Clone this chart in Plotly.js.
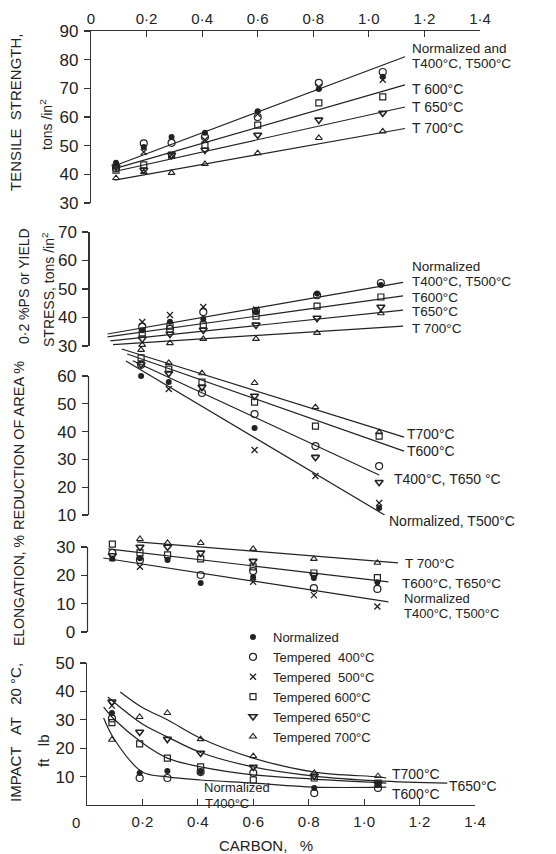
<!DOCTYPE html>
<html><head><meta charset="utf-8">
<script src="https://cdn.plot.ly/plotly-3.0.1.min.js"></script>
<style>html,body{margin:0;padding:0;background:#fff;}#chart{width:556px;height:854px;}</style>
</head><body><div id="chart"></div>
<script>
// ---------------- DATA ----------------
const carbon = [0.09, 0.19, 0.29, 0.41, 0.60, 0.82, 1.05];
const seriesNames = ['Normalized', 'Tempered  400°C', 'Tempered  500°C', 'Tempered 600°C', 'Tempered 650°C', 'Tempered 700°C'];
const xTickValsTop = [0, 0.2, 0.4, 0.6, 0.8, 1.0, 1.2, 1.4];
const xTickTextTop = ['0', '0·2', '0·4', '0·6', '0·8', '1·0', '1·2', '1·4'];
const xTickValsBottom = [0.2, 0.4, 0.6, 0.8, 1.0, 1.2, 1.4];
const xTickTextBottom = ['0·2', '0·4', '0·6', '0·8', '1·0', '1·2', '1·4'];

// Tensile strength, tons/in2
const tenNorm = [44, 49.5, 53, 54.5, 62, 69.8, 74];
const ten400  = [42.2, 50.8, 51, 53, 60, 71.9, 75.7];
const ten500  = [43, 47.8, 46.7, 52, 61, 70.5, 73];
const ten600  = [41.5, 43.3, 46.7, 50.2, 57.2, 64.9, 67];
const ten650  = [42.6, 41.5, 46.7, 48.5, 53.7, 59, 61.4];
const ten700  = [38.7, 40.8, 40.5, 43.6, 47.4, 52.7, 55];
const tenFitTopX = [0.085, 1.13], tenFitTopY = [43, 81];
const tenFit600X = [0.085, 1.13], tenFit600Y = [42, 71.2];
const tenFit650X = [0.085, 1.13], tenFit650Y = [41, 63.5];
const tenFit700X = [0.085, 1.13], tenFit700Y = [38, 56];

// 0.2% PS or yield stress, tons/in2
const yldNorm = [null, 35.5, 38.5, 39.5, 42, 48.4, 51.4];
const yld400  = [null, 36.8, 36, 41.9, 42.3, 47.8, 52.1];
const yld500  = [null, 38.4, 40.9, 43.7, 42.8, null, null];
const yld600  = [null, 34.6, 37, 37.4, 40.5, 44, 47.2];
const yld650  = [null, 32.5, 34.2, 35.6, 37.4, 39.8, 43.7];
const yld700  = [null, 30.4, 31, 32.5, 32.5, 34.6, 41.5];
const yldFitTopX = [0.065, 1.13], yldFitTopY = [34.2, 52.3];
const yldFit600X = [0.065, 1.13], yldFit600Y = [33.2, 47.6];
const yldFit650X = [0.075, 1.13], yldFit650Y = [31.8, 42.6];
const yldFit700X = [0.085, 1.13], yldFit700Y = [30.5, 37];

// Reduction of area %
const raNorm = [null, 60, 57.8, null, 41.3, null, 12.5];
const ra400  = [null, 64, null, 53.9, 46.3, 34.8, 27.6];
const ra500  = [null, null, 55.3, null, 33.4, 24, 14.3];
const ra600  = [null, 66.5, 62.5, 57.8, 50.6, 42, 38.4];
const ra650  = [null, 64.2, 61, 56, 52.8, 30.8, 21.8];
const ra700  = [null, 69.4, 64.7, 61, 57.5, 48.8, 39.8];
const raFit700X = [0.12, 1.14], raFit700Y = [69.7, 38];
const raFit600X = [0.14, 1.14], raFit600Y = [67.9, 33];
const raFit400X = [0.16, 1.05], raFit400Y = [65.5, 24.4];
const raFitNormX = [0.135, 1.07], raFitNormY = [65.4, 10];

// Elongation %
const elNorm = [25.8, 26, 25.4, 17.3, 19.4, 19, 17.5];
const el400  = [27.9, 25.4, null, 20.1, 21.5, 15.5, 15.2];
const el500  = [26, 23, null, null, 17.7, 13, 9];
const el600  = [31, 27.9, 27.2, 25.8, 23, 20.8, 19.2];
const el650  = [27, 30, 30, 27.9, 25, 20, null];
const el700  = [null, 32.8, 31.4, 31.4, 29.3, 25.8, 24.4];
const elFit700X = [0.18, 1.125], elFit700Y = [31.8, 24.4];
const elFit600X = [0.075, 1.09], elFit600Y = [29.3, 17.7];
const elFitNormX = [0.057, 1.09], elFitNormY = [26.1, 10.6];

// Impact at 20 C, ft lb
const impNorm = [32.4, 11.3, 12, 11.6, null, 6, 7.4];
const imp400  = [30.5, 9.5, 9.5, 11.6, 11.3, 4.2, 6];
const imp500  = [35, null, null, null, null, null, null];
const imp600  = [29, 21.5, 16.5, 13.4, 8.8, 9.5, 7.7];
const imp650  = [36.3, 25.7, 23.2, 18.3, 13.4, 10.2, 7.5];
const imp700  = [23, 31, 32.4, 23.2, 17.2, 11.3, 10.2];
const impCurve700X = [0.12, 0.2, 0.29, 0.41, 0.6, 0.82, 1.05, 1.08];
const impCurve700Y = [39.8, 34.3, 30, 23.5, 16.5, 11.6, 9.9, 9.5];
const impCurve650X = [0.075, 0.2, 0.29, 0.41, 0.6, 0.82, 1.05, 1.30];
const impCurve650Y = [38, 28.5, 24, 18.5, 13.4, 10.2, 8.5, 7.7];
const impCurve600X = [0.06, 0.1, 0.2, 0.29, 0.41, 0.6, 0.82, 1.08];
const impCurve600Y = [34.5, 30, 21.8, 16.5, 13.4, 10.6, 9.1, 7.7];
const impCurveNormX = [0.06, 0.1, 0.2, 0.29, 0.41, 0.6, 0.82, 1.08];
const impCurveNormY = [30.6, 22.9, 11.6, 9.9, 8.8, 7.7, 6.3, 6.3];

// ---------------- STYLE / LAYOUT HELPERS ----------------
const W = 556, H = 854;
const PX = x => x / W;
const PY = y => 1 - y / H;
const INK = '#222';
const FONT = 'Liberation Sans, Arial, sans-serif';

const markerStyles = [
  {symbol: 'circle', size: 6, color: INK, line: {width: 0, color: INK}},
  {symbol: 'circle-open', size: 7, color: INK, line: {width: 1.2, color: INK}},
  {symbol: 'x-thin-open', size: 6, color: INK, line: {width: 1.3, color: INK}},
  {symbol: 'square-open', size: 6, color: INK, line: {width: 1.2, color: INK}},
  {symbol: 'triangle-down-open', size: 7, color: INK, line: {width: 1.6, color: INK}},
  {symbol: 'triangle-up-open', size: 6, color: INK, line: {width: 1.1, color: INK}}
];

const traces = [];
function addMarkers(xa, ya, list, showLegend) {
  list.forEach((vals, i) => {
    traces.push({
      type: 'scatter', mode: 'markers', x: carbon, y: vals,
      xaxis: xa, yaxis: ya, name: seriesNames[i],
      showlegend: !!showLegend, legendrank: i + 1,
      marker: markerStyles[i], cliponaxis: false, hoverinfo: 'skip'
    });
  });
}
function addLine(xa, ya, xs, ys, spline) {
  traces.push({
    type: 'scatter', mode: 'lines', x: xs, y: ys, xaxis: xa, yaxis: ya,
    showlegend: false, cliponaxis: false, hoverinfo: 'skip',
    line: {color: INK, width: 1.2, shape: spline ? 'spline' : 'linear', smoothing: 1}
  });
}

// Panel 1
addLine('x', 'y', tenFitTopX, tenFitTopY);
addLine('x', 'y', tenFit600X, tenFit600Y);
addLine('x', 'y', tenFit650X, tenFit650Y);
addLine('x', 'y', tenFit700X, tenFit700Y);
addMarkers('x', 'y', [tenNorm, ten400, ten500, ten600, ten650, ten700]);
// Panel 2
addLine('x2', 'y2', yldFitTopX, yldFitTopY);
addLine('x2', 'y2', yldFit600X, yldFit600Y);
addLine('x2', 'y2', yldFit650X, yldFit650Y);
addLine('x2', 'y2', yldFit700X, yldFit700Y);
addMarkers('x2', 'y2', [yldNorm, yld400, yld500, yld600, yld650, yld700]);
// Panel 3
addLine('x3', 'y3', raFit700X, raFit700Y);
addLine('x3', 'y3', raFit600X, raFit600Y);
addLine('x3', 'y3', raFit400X, raFit400Y);
addLine('x3', 'y3', raFitNormX, raFitNormY);
addMarkers('x3', 'y3', [raNorm, ra400, ra500, ra600, ra650, ra700]);
// Panel 4
addLine('x4', 'y4', elFit700X, elFit700Y);
addLine('x4', 'y4', elFit600X, elFit600Y);
addLine('x4', 'y4', elFitNormX, elFitNormY);
addMarkers('x4', 'y4', [elNorm, el400, el500, el600, el650, el700]);
// Panel 5
addLine('x5', 'y5', impCurve700X, impCurve700Y, true);
addLine('x5', 'y5', impCurve650X, impCurve650Y, true);
addLine('x5', 'y5', impCurve600X, impCurve600Y, true);
addLine('x5', 'y5', impCurveNormX, impCurveNormY, true);
addMarkers('x5', 'y5', [impNorm, imp400, imp500, imp600, imp650, imp700], true);

// axes
function hiddenX(l, r, anchor) {
  return {domain: [PX(l), PX(r)], range: [0, 1.4], visible: false, anchor: anchor, fixedrange: true};
}
function yAx(bottomPx, topPx, range, tickvals, anchor, showline) {
  return {
    domain: [PY(bottomPx), PY(topPx)], range: range, anchor: anchor,
    tickvals: tickvals, ticks: 'outside', ticklen: 6, tickwidth: 1.2, tickcolor: '#333',
    showline: showline, linecolor: '#333', linewidth: 1.2,
    showgrid: false, zeroline: false, automargin: false,
    tickfont: {family: FONT, size: 17, color: INK}, ticklabelstandoff: 2
  };
}

const layout = {
  width: W, height: H,
  margin: {l: 0, r: 0, t: 0, b: 0},
  paper_bgcolor: '#fff', plot_bgcolor: 'rgba(0,0,0,0)',
  showlegend: true,
  legend: {
    x: PX(233), y: PY(622), xanchor: 'left', yanchor: 'top',
    font: {family: FONT, size: 13, color: INK}, bgcolor: 'rgba(0,0,0,0)',
    itemwidth: 30, tracegroupgap: 0, traceorder: 'normal'
  },
  xaxis: {
    domain: [PX(91), PX(480)], range: [0, 1.4], side: 'top', anchor: 'y',
    tickvals: xTickValsTop, ticktext: xTickTextTop, ticks: 'inside', ticklen: 6, tickwidth: 1.2, tickcolor: '#333',
    showline: true, linecolor: '#333', linewidth: 1.2, showgrid: false, zeroline: false, automargin: false,
    tickfont: {family: FONT, size: 15, color: INK}
  },
  xaxis2: hiddenX(89.5, 478, 'y2'),
  xaxis3: hiddenX(88.5, 476, 'y3'),
  xaxis4: hiddenX(87.5, 474, 'y4'),
  xaxis5: {
    domain: [PX(87), PX(475)], range: [0, 1.4], side: 'bottom', anchor: 'y5',
    tickvals: xTickValsBottom, ticktext: xTickTextBottom, ticks: 'inside', ticklen: 6, tickwidth: 1.2, tickcolor: '#333',
    showline: true, linecolor: '#333', linewidth: 1.2, showgrid: false, zeroline: false, automargin: false,
    tickfont: {family: FONT, size: 15, color: INK}, ticklabelstandoff: 3
  },
  yaxis: yAx(203, 31, [30, 90], [30, 40, 50, 60, 70, 80, 90], 'x', true),
  yaxis2: yAx(346, 232, [30, 70], [30, 40, 50, 60, 70], 'x2', true),
  yaxis3: yAx(515, 346.8, [10, 70.5], [10, 20, 30, 40, 50, 60], 'x3', false),
  yaxis4: yAx(632, 537, [0, 33.5], [0, 10, 20, 30], 'x4', false),
  yaxis5: yAx(805, 663, [0, 50], [10, 20, 30, 40, 50], 'x5', true),
  shapes: [
    {type: 'line', xref: 'paper', yref: 'y3', x0: PX(88.5), x1: PX(88.5), y0: 10, y1: 60, line: {color: '#333', width: 1.2}},
    {type: 'line', xref: 'paper', yref: 'y4', x0: PX(87.5), x1: PX(87.5), y0: 0, y1: 30, line: {color: '#333', width: 1.2}}
  ],
  annotations: []
};

function note(text, x, y, size, opts) {
  layout.annotations.push(Object.assign({
    text: text, xref: 'paper', yref: 'paper', x: PX(x), y: PY(y),
    xanchor: 'left', yanchor: 'middle', showarrow: false,
    font: {family: FONT, size: size || 14, color: INK}
  }, opts || {}));
}
function vtitle(text, x, y, size) {
  note(text, x, y, size, {xanchor: 'center', yanchor: 'middle', textangle: -90});
}

// curve labels
note('Normalized and', 410, 49, 13.5); note('T400°C, T500°C', 410, 64, 13.5);
note('T 600°C', 410, 89); note('T 650°C', 410, 107); note('T 700°C', 410, 128);
note('Normalized', 410, 266, 13.5); note('T400°C, T500°C', 410, 282, 13.5);
note('T600°C', 410, 297, 13.5); note('T650°C', 410, 312, 13.5); note('T 700°C', 410, 328, 13.5);
note('T700°C', 405, 434); note('T600°C', 405, 451);
note('T400°C, T650 °C', 392, 479); note('Normalized, T500°C', 387, 521);
note('T 700°C', 403, 563, 13.5); note('T600°C, T650°C', 400, 583, 13.5);
note('Normalized', 402, 598, 13); note('T400°C, T500°C', 402, 613, 13);
note('T700°C', 390, 774); note('T600°C', 390, 794); note('T650°C', 447, 786);
note('Normalized', 202, 787, 13); note('T400°C', 203, 803, 13);

// axis titles
vtitle('TENSILE  STRENGTH,', 15, 112, 15);
vtitle('tons /in<sup>2</sup>', 46, 125, 14);
vtitle('0·2 %PS or YIELD', 24, 286, 14);
vtitle('STRESS, tons /in<sup>2</sup>', 48, 290, 14);
vtitle('REDUCTION OF AREA %', 19, 446, 14.5);
vtitle('ELONGATION, %', 19, 591, 14);
vtitle('IMPACT   AT   20 °C,', 15, 733, 15);
vtitle('ft   lb', 43, 751, 15);
note('0', 76, 822, 15, {xanchor: 'center'});
note('CARBON,   %', 266, 845, 15, {xanchor: 'center'});

Plotly.newPlot('chart', traces, layout, {staticPlot: true, displayModeBar: false});
</script>
</body></html>
